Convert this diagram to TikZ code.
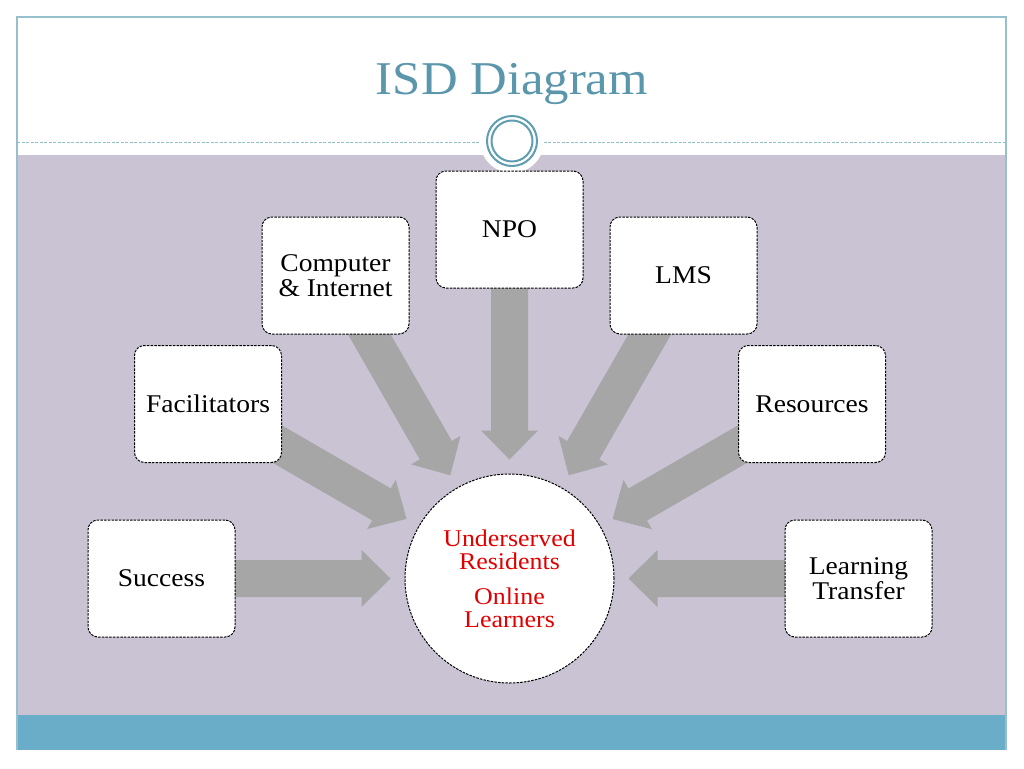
\documentclass[tikz,border=0pt]{standalone}
\usepackage{fontspec}
\setmainfont{Liberation Serif}[FakeStretch=1.08]
\usetikzlibrary{calc}
\definecolor{panel}{RGB}{201,195,211}
\definecolor{barc}{RGB}{106,173,200}
\definecolor{titlec}{RGB}{90,150,172}
\definecolor{framec}{RGB}{150,192,204}
\definecolor{dashc}{RGB}{140,190,204}
\definecolor{ringc}{RGB}{94,158,176}
\definecolor{arrowc}{RGB}{166,166,166}
\definecolor{hubred}{RGB}{225,0,0}
\pgfdeclarelayer{bg}
\pgfdeclarelayer{arr}
\pgfsetlayers{bg,arr,main}
\newcommand\blockarrow[2]{%
  \coordinate (#1-hb) at ($(#2)!29pt!(#1.center)$);
  \fill[arrowc] ($(#1.center)!18.5pt!90:(#2)$) -- ($(#1-hb)!18.5pt!90:(#2)$)
    -- ($(#1-hb)!28.5pt!90:(#2)$) -- (#2) -- ($(#1-hb)!28.5pt!-90:(#2)$)
    -- ($(#1-hb)!18.5pt!-90:(#2)$) -- ($(#1.center)!18.5pt!-90:(#2)$) -- cycle;}
\begin{document}
\begin{tikzpicture}[x=1pt,y=-1pt,
  boxnode/.style={draw=black, fill=white, rounded corners=10pt,
    dash pattern=on 2.5pt off 1.2pt, line width=1pt,
    minimum width=147pt, minimum height=117pt, inner sep=2pt,
    align=center, font=\fontsize{25.5}{25.5}\selectfont},
  hubnode/.style={circle, draw=black, fill=white, dash pattern=on 2.5pt off 1.2pt,
    line width=1pt, minimum size=209pt, inner sep=0pt, align=center,
    text=hubred, font=\fontsize{24}{23}\selectfont}]
\useasboundingbox (0,0) rectangle (1024,768);
% frame and bands
\begin{pgfonlayer}{bg}
\fill[white] (0,0) rectangle (1024,768);
\fill[panel] (17,155) rectangle (1006,715);
\fill[barc] (17,715) rectangle (1006,750);
\draw[framec, line width=1.2pt] (17,750) -- (17,17) -- (1006,17) -- (1006,750);
\draw[dashc, line width=1pt, dash pattern=on 3pt off 1.5pt] (17,142.5) -- (1006,142.5);
\fill[white] (512,141) circle (32);
\draw[ringc, line width=2pt] (512,141) circle (25);
\draw[ringc, line width=2pt] (512,141) circle (20.5);
\end{pgfonlayer}
% title
\node[anchor=base, text=titlec, font=\fontsize{47}{47}\selectfont] (title) at (512,94) {ISD Diagram};
% boxes
\node[boxnode] (suc) at (161.5,578.5) {Success};
\node[boxnode] (fac) at (208,404) {Facilitators};
\node[boxnode] (com) at (335.5,275.5) {Computer\\\& Internet};
\node[boxnode] (npo) at (509.5,229.5) {NPO};
\node[boxnode] (lms) at (683.5,275.5) {LMS};
\node[boxnode] (res) at (812,404) {Resources};
\node[boxnode] (lt) at (858.5,578.5) {Learning\\Transfer};
% hub
\node[hubnode] (hub) at (509.5,578.5) {Underserved\\Residents\\[12pt]Online\\Learners};
% arrow tips
\foreach \b in {suc,fac,com,npo,lms,res,lt}{
  \coordinate (\b-tip) at ($(hub.center)!119pt!(\b.center)$);
}
\begin{pgfonlayer}{arr}
\foreach \b in {suc,fac,com,npo,lms,res,lt}{
  \blockarrow{\b}{\b-tip}
}
\end{pgfonlayer}
\end{tikzpicture}
\end{document}
